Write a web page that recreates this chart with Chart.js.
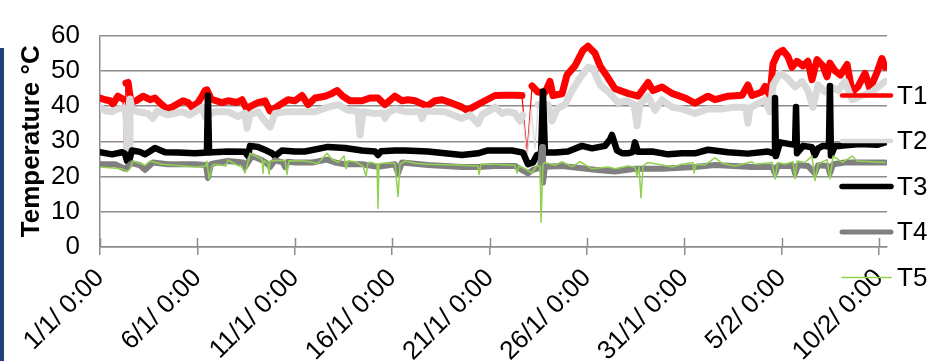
<!DOCTYPE html>
<html>
<head>
<meta charset="utf-8">
<script src="https://cdn.jsdelivr.net/npm/chart.js@4.4.1/dist/chart.umd.min.js"></script>
<style>
html,body{margin:0;padding:0;background:#fff;}
#wrap{width:931px;height:361px;position:relative;}
</style>
</head>
<body>
<div id="wrap"><canvas id="c" width="931" height="361"></canvas></div>
<script>
// ---- data (x in days since 1/1 0:00, y in °C) ----
const xTickLabels = ["1/1/ 0:00","6/1/ 0:00","11/1/ 0:00","16/1/ 0:00","21/1/ 0:00","26/1/ 0:00","31/1/ 0:00","5/2/ 0:00","10/2/ 0:00"];
const seriesNames = ["T1","T2","T3","T4","T5"];

const t1Days = [0,0.26,0.51,0.67,0.92,1.18,1.26,1.33,1.44,1.59,1.85,2.21,2.57,2.82,3.18,3.44,3.70,4.26,4.52,4.72,5.03,5.24,5.39,5.49,5.70,5.80,6.26,6.57,7.03,7.29,7.55,7.65,8.11,8.47,8.73,8.83,9.24,9.65,10.01,10.37,10.68,11.04,11.55,11.91,12.17,12.47,12.83,13.45,13.86,14.27,14.63,15.14,15.50,15.81,16.17,16.79,17.20,17.56,17.97,18.58,18.84,19.25,19.76,20.28,20.79,21.30,21.66,21.92,22.18,22.48,22.84,23.10,23.25,23.72,23.97,24.38,24.79,25.05,25.41,25.67,26.08,26.44,27.10,27.62,28.13,28.39,28.85,29.36,30.03,30.54,31.21,31.57,32.24,32.96,33.26,33.47,33.98,34.14,34.39,34.55,34.80,35.06,35.32,35.52,35.78,36.09,36.34,36.55,36.81,37.11,37.32,37.47,37.73,38.01,38.35,38.61,38.91,39.27,39.53,39.89,40.14,40.30];
const t1Vals = [42.3,41.8,41.5,40.6,42.8,42.0,27.0,46.5,46.7,41.0,41.5,42.8,41.8,42.3,40.4,39.2,39.7,41.5,41.0,39.7,41.0,42.8,44.4,44.6,42.0,41.8,41.0,41.5,41.0,41.8,39.0,39.7,41.0,41.5,38.6,38.8,40.4,41.8,41.5,43.0,40.4,42.3,42.8,43.6,44.4,42.8,41.5,41.5,42.3,42.3,40.4,42.8,41.5,41.8,41.5,40.0,41.5,41.8,41.0,39.7,38.8,40.0,41.5,43.0,43.1,43.1,43.0,26.5,45.7,44.0,43.8,47.0,43.0,43.5,48.8,51.4,55.8,57.0,55.0,51.4,48.0,44.9,43.6,42.8,46.7,44.4,45.4,43.6,42.3,40.8,42.8,41.8,42.8,43.1,46.0,43.0,44.0,45.6,43.0,52.0,55.0,55.8,54.0,51.0,52.7,51.4,52.7,47.5,53.2,51.4,48.3,52.2,50.0,48.8,51.8,44.0,45.5,49.3,44.9,49.6,53.5,51.0];

const t2Days = [0,0.31,0.62,0.92,1.23,1.33,1.39,1.49,1.54,1.64,1.95,2.46,2.72,2.93,3.49,4.21,4.62,4.88,5.24,5.39,5.90,6.57,7.08,7.44,7.55,7.70,8.11,8.47,8.73,8.98,9.50,10.01,10.52,11.04,11.70,12.22,12.73,13.24,13.35,13.50,14.12,14.53,14.63,14.78,15.14,15.66,16.43,16.53,16.68,17.71,18.58,18.99,19.40,19.61,20.28,20.64,20.94,21.30,21.56,21.71,21.92,22.13,22.33,22.48,22.69,23.00,23.20,23.46,23.87,24.23,24.64,25.05,25.31,25.67,26.18,26.59,27.05,27.41,27.57,27.72,28.13,28.49,28.85,29.36,29.88,30.54,31.21,31.93,32.60,33.16,33.26,33.37,34.14,34.39,34.55,34.91,35.27,35.68,36.04,36.34,36.60,36.86,37.22,37.58,37.89,38.24,38.61,39.12,39.63,39.94,40.30];
const t2Vals = [39.7,38.6,38.4,39.2,39.5,39.0,28.0,28.0,42.0,39.0,38.4,37.9,36.5,38.6,37.5,38.4,37.5,38.4,39.7,37.0,38.4,38.4,37.0,38.0,33.7,37.5,38.4,35.7,34.0,37.9,38.4,38.4,38.4,38.4,39.7,40.4,38.8,38.5,31.8,38.4,37.9,38.0,36.5,38.0,39.2,38.4,38.4,36.5,38.6,38.4,36.5,37.5,35.0,37.5,39.7,37.9,38.4,38.0,35.7,37.5,25.0,39.0,28.0,40.4,39.7,40.4,35.7,39.2,40.4,44.4,48.0,51.0,50.6,46.0,43.6,41.0,41.5,40.5,34.4,40.5,42.8,38.8,41.8,39.7,39.2,37.9,39.2,39.2,39.7,39.5,35.2,39.5,41.8,38.4,46.0,49.3,48.0,45.4,47.0,44.4,39.7,46.0,44.0,45.4,44.4,47.0,41.8,43.0,44.0,45.4,47.0];

const t3Days = [0,0.62,1.13,1.28,1.39,1.49,1.64,2.05,2.31,2.57,2.82,3.34,4.00,4.88,5.49,5.54,5.60,5.80,6.57,7.44,7.60,7.70,8.11,8.57,8.83,8.98,9.34,10.01,10.52,11.70,12.58,13.45,14.12,14.27,14.43,15.14,15.66,16.84,17.71,18.58,19.40,19.92,21.15,21.71,21.97,22.23,22.43,22.64,22.74,22.84,23.36,24.02,24.74,25.26,25.92,26.18,26.28,26.54,26.80,27.10,27.36,27.46,27.62,28.34,29.16,29.88,30.54,31.21,32.24,33.26,34.29,34.60,34.65,34.70,34.91,35.42,35.68,35.73,35.78,36.09,36.55,36.70,36.86,37.11,37.42,37.47,37.52,37.73,38.01,39.02,39.89,40.30];
const t3Vals = [26.9,26.3,26.9,26.5,24.4,24.4,27.4,27.0,26.3,27.2,28.1,26.9,26.8,26.6,26.8,43.0,26.8,26.9,27.1,27.0,25.8,28.7,28.4,27.3,26.6,25.8,27.4,27.1,27.1,28.4,28.1,27.4,27.1,26.1,27.2,27.4,27.4,27.1,26.6,26.1,26.6,27.4,27.4,26.8,23.5,24.0,26.1,26.5,44.1,26.8,26.8,27.1,28.7,28.0,28.7,30.5,31.8,27.4,26.6,26.6,27.0,29.7,27.0,27.1,26.3,26.6,26.6,27.6,26.9,26.5,27.1,26.5,42.3,25.8,29.7,29.2,29.0,39.7,26.6,28.7,28.3,26.1,28.0,28.7,28.5,45.7,26.0,28.7,28.7,29.2,29.0,29.7];

const t4Days = [0,0.77,1.28,1.64,2.05,2.31,2.72,3.49,4.88,5.44,5.54,5.70,5.90,6.57,7.34,7.44,7.80,8.32,8.62,8.73,8.98,9.39,9.50,9.65,10.01,10.88,11.65,12.06,12.58,13.45,14.27,15.14,15.30,15.50,16.84,18.58,19.40,20.28,21.30,21.97,22.23,22.59,22.69,22.74,22.84,23.72,25.41,26.44,27.46,28.85,30.54,31.57,33.47,34.50,34.65,34.80,35.58,35.68,35.83,36.34,36.70,36.86,37.37,37.47,37.63,38.24,40.30];
const t4Vals = [23.5,23.5,22.2,23.8,23.2,21.9,24.0,23.5,23.5,23.3,19.6,23.5,23.8,24.4,24.0,22.7,25.8,24.6,23.5,22.7,24.6,24.0,22.7,24.2,24.0,24.0,24.8,24.0,23.5,23.5,22.8,23.5,20.9,24.0,23.3,22.7,22.7,23.0,23.0,20.9,21.9,22.5,28.4,18.3,22.8,23.0,21.9,21.4,22.2,22.2,22.7,23.3,22.7,22.8,20.9,23.0,23.0,20.9,23.2,23.0,20.9,23.2,23.0,20.9,23.5,24.0,24.0];

const t5Days = [0,1.13,1.39,1.54,1.69,2.31,2.57,3.18,4.88,5.44,5.49,5.60,5.75,5.90,6.47,6.57,6.93,7.29,7.44,7.55,7.70,8.32,8.37,8.42,8.62,8.68,8.73,9.50,9.60,9.70,10.52,11.19,11.65,11.91,12.22,12.53,12.63,12.73,13.09,13.50,13.66,13.76,13.96,14.22,14.27,14.32,14.48,15.14,15.30,15.40,15.66,16.17,16.84,18.58,19.40,19.46,19.56,20.28,21.30,21.41,21.51,21.82,22.18,22.43,22.59,22.64,22.74,22.84,23.36,23.72,24.23,24.64,25.26,26.08,26.44,27.10,27.46,27.57,27.67,27.77,27.88,28.13,28.85,29.36,29.88,30.44,30.49,30.60,31.06,31.57,31.93,32.60,33.47,33.62,34.50,34.65,34.80,35.16,35.58,35.68,35.78,36.19,36.55,36.70,36.86,37.32,37.47,37.63,38.12,38.61,38.86,40.30];
const t5Vals = [22.7,22.2,21.4,22.2,24.4,23.2,24.4,23.5,22.7,23.0,24.4,19.3,23.0,23.5,23.0,24.8,23.5,22.7,21.0,23.0,26.6,24.9,20.9,24.5,23.8,20.6,24.5,24.6,20.6,24.5,24.4,23.7,26.6,24.9,24.0,25.8,22.2,24.5,24.2,23.0,20.1,24.0,24.0,23.5,11.0,23.5,23.8,23.8,14.3,23.5,24.4,23.8,23.5,23.2,23.0,20.6,23.5,23.5,23.2,21.0,23.0,22.2,21.0,23.2,22.8,7.0,23.5,24.0,23.2,24.2,22.8,24.2,22.2,22.7,22.2,23.0,22.7,20.1,22.7,14.0,23.0,24.0,23.3,22.7,23.5,24.0,21.0,23.5,23.3,25.3,23.8,23.0,24.2,23.5,24.0,19.3,24.0,23.5,24.2,19.3,24.4,24.0,25.8,18.8,23.5,24.8,19.3,25.8,24.0,25.8,24.4,24.0];

// ---- build ----
function zip(days, vals){
  const n = Math.min(days.length, vals.length);
  const out = [];
  for (let i = 0; i < n; i++) out.push({x: days[i], y: vals[i]});
  return out;
}
const allDays = [t1Days,t2Days,t3Days,t4Days,t5Days];
const allVals = [t1Vals,t2Vals,t3Vals,t4Vals,t5Vals];
const colors = ['#ff0000','#d9d9d9','#000000','#808080','#92d050'];
const widths = [7,7,6.5,6,1.5];
const legendWidths = [4.5,4.5,5.5,5,1.5];
const thinFrom = [0, 20, null, null, null];

const datasets = seriesNames.map((name, i) => ({
  label: name,
  data: zip(allDays[i], allVals[i]),
  borderColor: colors[i],
  backgroundColor: colors[i],
  borderWidth: widths[i],
  pointRadius: 0,
  pointHoverRadius: 0,
  tension: 0,
  fill: false,
  borderJoinStyle: 'round',
  borderCapStyle: 'round',
  order: 5 - i,
  segment: thinFrom[i] === null ? undefined : {
    borderWidth: ctx => (Math.abs(ctx.p1.parsed.y - ctx.p0.parsed.y) > 10 && ctx.p0.parsed.x >= thinFrom[i]) ? 1.2 : undefined
  }
}));

const FONT = "'Liberation Sans', Arial, sans-serif";
const GRID = '#8c8c8c';

const extras = {
  id: 'extras',
  beforeDatasetsDraw(chart){
    const ctx = chart.ctx, xs = chart.scales.x, b = chart.chartArea.bottom;
    ctx.save();
    ctx.strokeStyle = GRID; ctx.lineWidth = 1.5;
    xs.ticks.forEach(t => {
      const px = Math.round(xs.getPixelForValue(t.value)) + 0.5;
      ctx.beginPath(); ctx.moveTo(px, b - 9); ctx.lineTo(px, b); ctx.stroke();
    });
    ctx.restore();
  },
  afterDraw(chart){
    const ctx = chart.ctx;
    ctx.save();
    ctx.fillStyle = '#22407a';
    ctx.fillRect(0, 48, 4, 313);
    ctx.font = '26px ' + FONT;
    ctx.textBaseline = 'middle';
    ctx.textAlign = 'left';
    chart.data.datasets.forEach((ds, i) => {
      const y = 95.5 + i * 45.5;
      ctx.strokeStyle = ds.borderColor;
      ctx.lineWidth = legendWidths[i];
      ctx.lineCap = 'round';
      ctx.beginPath(); ctx.moveTo(842, y); ctx.lineTo(891, y); ctx.stroke();
      ctx.fillStyle = '#000';
      ctx.fillText(ds.label, 897, y + 1);
    });
    ctx.restore();
  }
};

new Chart(document.getElementById('c'), {
  type: 'line',
  data: { datasets },
  options: {
    responsive: false,
    animation: false,
    devicePixelRatio: 1,
    layout: { padding: { top: 17, right: 44, left: 0, bottom: 0 } },
    plugins: { legend: { display: false }, tooltip: { enabled: false } },
    scales: {
      x: {
        type: 'linear', min: 0, max: 40.4,
        afterFit: s => { s.height = 114; },
        border: { display: true, color: GRID, width: 1.5 },
        grid: { drawOnChartArea: false, drawTicks: true, tickLength: 8, color: GRID, lineWidth: 1.5 },
        ticks: {
          stepSize: 5, autoSkip: false, includeBounds: false,
          minRotation: 45, maxRotation: 45, padding: 8,
          color: '#000', font: { family: FONT, size: 26 },
          callback: v => xTickLabels[Math.round(v / 5)] || ''
        }
      },
      y: {
        min: 0, max: 60,
        afterFit: s => { s.width = 100; },
        border: { display: true, color: GRID, width: 1.5 },
        grid: { drawTicks: false, color: GRID, lineWidth: 1.5 },
        ticks: { stepSize: 10, padding: 20, color: '#000', font: { family: FONT, size: 26 } },
        title: { display: true, text: 'Temperature °C', color: '#000',
                 font: { family: FONT, size: 26, weight: 'bold', lineHeight: 1 },
                 padding: { top: 19, bottom: 0 } }
      }
    }
  },
  plugins: [extras]
});
</script>
</body>
</html>
